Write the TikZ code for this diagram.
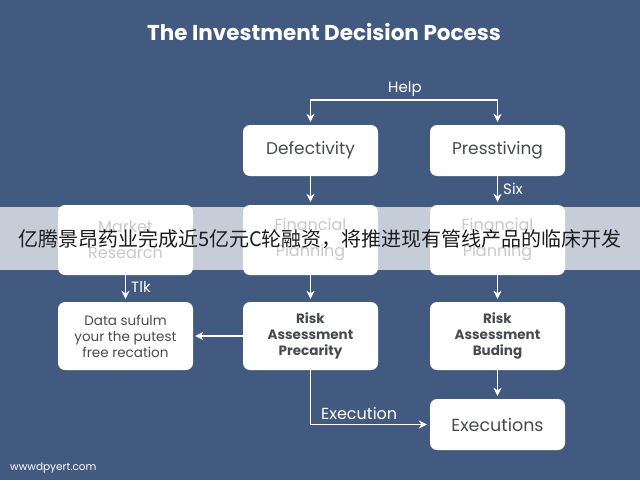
\documentclass[tikz,border=0pt]{standalone}
\usepackage{fontspec}
\setmainfont{Poppins}
\newfontfamily\cjk{Noto Sans CJK SC}
\usetikzlibrary{arrows.meta}
\definecolor{bg}{RGB}{67,90,128}
\definecolor{boxtext}{RGB}{72,74,80}
\definecolor{cntext}{RGB}{28,28,30}
\tikzset{
  card/.style={rectangle, rounded corners=7pt, fill=white, text=boxtext, align=center,
    inner sep=0pt, minimum width=135pt},
  cardA/.style={card, minimum height=51pt, font=\fontsize{17}{19}\selectfont},
  cardB/.style={card, minimum height=70pt, font=\fontsize{16}{26}\selectfont},
  cardC/.style={card, minimum height=68pt, font=\fontsize{13.5}{16}\selectfont},
  flow/.style={draw=white, line width=1.5pt, -{Stealth[length=8pt,width=8pt]}, shorten >=3pt},
  lbl/.style={text=white, font=\fontsize{15}{17}\selectfont, inner sep=0pt}
}
\begin{document}
\begin{tikzpicture}[x=1pt,y=-1pt]
\fill[bg] (0,0) rectangle (640,480);
\useasboundingbox (0,0) rectangle (640,480);

\node[text=white, font=\fontsize{21.5}{24}\bfseries\selectfont] (title) at (324,32) {The Investment Decision Pocess};

% row 1
\node[cardA] (def) at (310.5,150.5) {Defectivity};
\node[cardA] (pres) at (497.5,150.5) {Presstiving};
% row 2
\node[cardB] (mkt) at (125.5,240) {Market\\Research};
\node[cardB] (fin) at (310.5,240) {Financial\\Planning};
\node[cardB] (fin2) at (497.5,240) {Financial\\Planning};
% row 3
\node[cardC] (data) at (125.5,336) {Data sufulm\\your the putest\\free recation};
\node[cardC, font=\fontsize{13.5}{16}\bfseries\selectfont] (risk1) at (310.5,336) {Risk\\Assessment\\Precarity};
\node[cardC, font=\fontsize{13.5}{16}\bfseries\selectfont] (risk2) at (497.5,336) {Risk\\Assessment\\Buding};
% row 4
\node[cardA, font=\fontsize{17.5}{19}\selectfont] (exec) at (497.5,424.5) {Executions};

% Help bracket
\coordinate (hc) at (405,100);
\coordinate (h1) at (310.5,100);
\coordinate (h2) at (497.5,100);
\node[lbl] (help) at (405,89) {Help};
\draw[flow] (hc) -- (h1) -- (def.north);
\draw[flow] (hc) -- (h2) -- (pres.north);

\draw[flow] (def) -- (fin);
\draw[flow] (pres) -- (fin2);
\node[lbl, anchor=west] (six) at (503,189) {Six};

\draw[flow] (mkt) -- (data);
\node[lbl, anchor=west] (tlk) at (131,287) {Tlk};
\draw[flow] (fin) -- (risk1);
\draw[flow] (fin2) -- (risk2);

\draw[flow, shorten >=2pt] (risk1.west) -- (data.east);
\draw[flow] (risk1.south) |- (exec.west);
\node[lbl, anchor=west, font=\fontsize{16}{18}\selectfont] (exlbl) at (321,413) {Execution};
\draw[flow] (risk2) -- (exec);

\node[text=white, font=\fontsize{10.5}{12}\selectfont, anchor=west, inner sep=0pt] (wm) at (10,468) {wwwdpyert.com};

% banner overlay
\fill[white, opacity=0.7] (0,207) rectangle (640,270);
\node[text=cntext, font=\cjk\fontsize{20}{24}\selectfont, inner sep=0pt] (banner) at (320,239) {亿腾景昂药业完成近5亿元C轮融资，将推进现有管线产品的临床开发};
\end{tikzpicture}
\end{document}
